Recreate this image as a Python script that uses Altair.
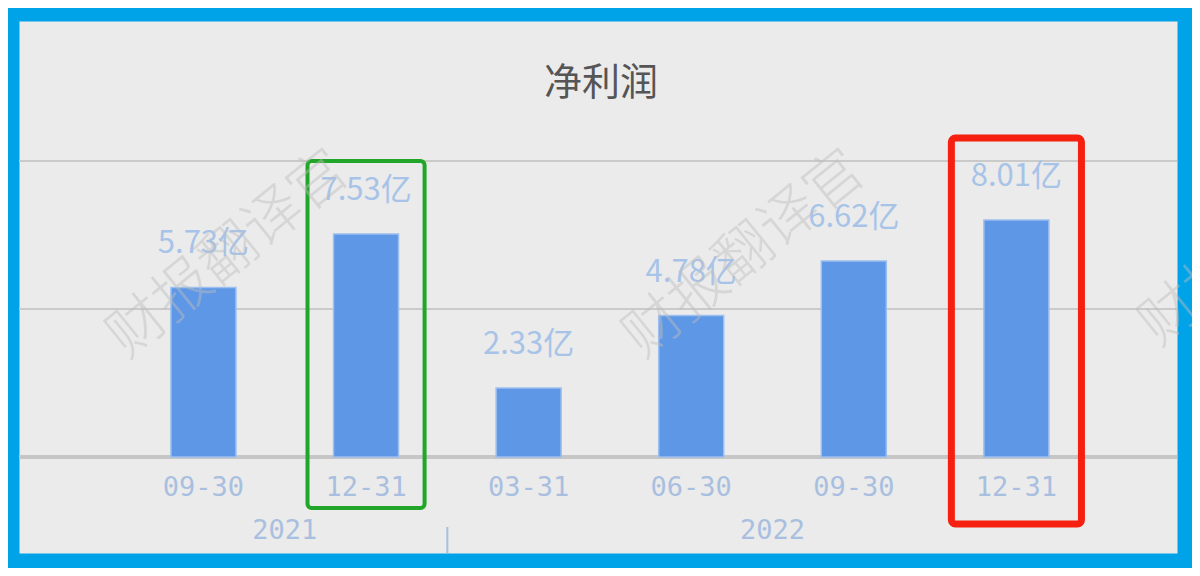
import altair as alt
import pandas as pd

# chart data
title_text = "净利润"
periods = ["09-30", "12-31", "03-31", "06-30", "09-30", "12-31"]
years = ["2021", "2021", "2022", "2022", "2022", "2022"]
profits = [5.73, 7.53, 2.33, 4.78, 6.62, 8.01]
grid_values = [5, 10]
highlight_green = 1
highlight_red = 5
watermark = "财报翻译官"

df = pd.DataFrame({
    "idx": list(range(len(periods))),
    "period": periods,
    "year": years,
    "profit": profits,
})
df["label"] = [f"{v:.2f}亿" for v in profits]

year_df = df.groupby("year", as_index=False)["idx"].mean()
sep_df = pd.DataFrame({"sep": [i - 0.5 for i in range(1, len(years)) if years[i] != years[i - 1]]})
grid_df = pd.DataFrame({"v": grid_values})

W, H = 1158, 532
x_scale = alt.Scale(domain=[-1.1037, 5.957], nice=False, zero=False)
y_scale = alt.Scale(domain=[-3.243, 14.73], nice=False, zero=False)
x_enc = alt.X("idx:Q", scale=x_scale, axis=None)

tick_color = "#A9BFE0"

grid = alt.Chart(grid_df).mark_rule(color="#CACACA", strokeWidth=2).encode(
    y=alt.Y("v:Q", scale=y_scale, axis=None)
)
baseline = alt.Chart(pd.DataFrame({"v": [0]})).mark_rule(color="#C6C6C6", strokeWidth=4).encode(
    y=alt.Y("v:Q", scale=y_scale, axis=None)
)

bars = alt.Chart(df).mark_bar(size=65, color="#5E97E6", stroke="#9DBFEF", strokeWidth=1.5).encode(
    x=x_enc,
    y=alt.Y("profit:Q", scale=y_scale, axis=None),
    y2=alt.datum(0),
)

values = alt.Chart(df).mark_text(
    dy=-34, baseline="alphabetic", fontSize=31, font="Noto Sans CJK SC", color="#A8C3E8"
).encode(x=x_enc, y=alt.Y("profit:Q", scale=y_scale, axis=None), text="label:N")

ticks = alt.Chart(df).mark_text(
    font="DejaVu Sans Mono", fontSize=27, color=tick_color, baseline="middle"
).encode(x=x_enc, y=alt.value(467), text="period:N")

year_text = alt.Chart(year_df).mark_text(
    font="DejaVu Sans Mono", fontSize=27, color=tick_color, baseline="middle"
).encode(x=x_enc, y=alt.value(510), text="year:N")

seps = alt.Chart(sep_df).mark_rule(color=tick_color, strokeWidth=2).encode(
    x=alt.X("sep:Q", scale=x_scale, axis=None), y=alt.value(506), y2=alt.value(532)
)

def box(i, half, color, width, top, bottom):
    d = pd.DataFrame({"x0": [df["idx"][i] - half], "x1": [df["idx"][i] + half]})
    return alt.Chart(d).mark_rect(
        fillOpacity=0, stroke=color, strokeWidth=width, cornerRadius=4
    ).encode(
        x=alt.X("x0:Q", scale=x_scale, axis=None), x2="x1:Q",
        y=alt.value(top), y2=alt.value(bottom)
    )

green_box = box(highlight_green, 0.36, "#22A62A", 4, 140, 487)
red_box = box(highlight_red, 0.40, "#F5200F", 7, 117, 503)

title = alt.Chart(pd.DataFrame({"t": [title_text]})).mark_text(
    fontSize=38, font="Noto Sans CJK SC", color="#555555", baseline="middle"
).encode(x=alt.value(582), y=alt.value(63), text="t:N")

marks = []
for wx, wy in [(210, 234), (726, 234), (1242, 222)]:
    marks.append(
        alt.Chart(pd.DataFrame({"t": [watermark]})).mark_text(
            fontSize=58, font="Noto Sans CJK SC", fontWeight=300, angle=321,
            color="#BDBDBD", opacity=0.45, baseline="middle"
        ).encode(x=alt.value(wx), y=alt.value(wy), text="t:N")
    )

chart = alt.layer(
    grid, baseline, bars, values, ticks, year_text, seps, green_box, red_box, title, *marks
).properties(
    width=W, height=H,
    background="#00A2E8",
    padding={"left": 11, "top": 13, "right": 15, "bottom": 15},
    autosize=alt.AutoSizeParams(type="none"),
).configure_view(fill="#EBEBEB", strokeOpacity=0)

chart.save("out.html", embed_options={"renderer": "svg", "actions": False})
